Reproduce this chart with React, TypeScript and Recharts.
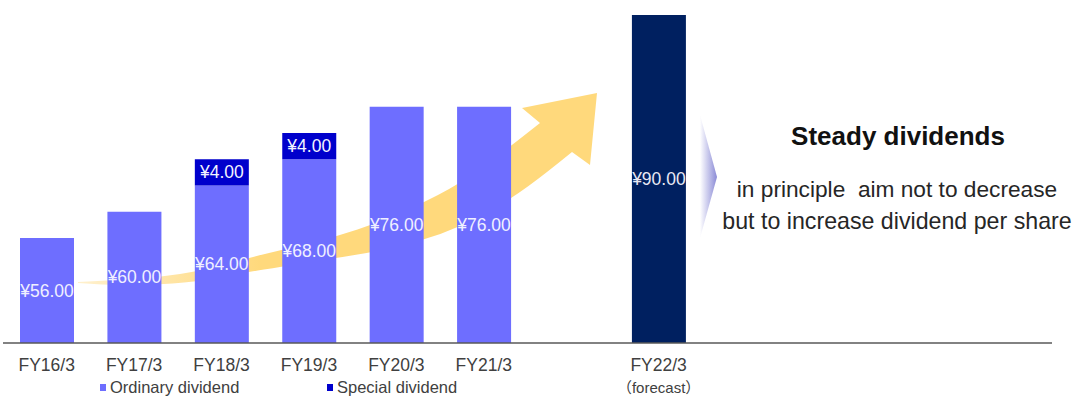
import React from 'react';
import { BarChart, Bar, XAxis, YAxis, LabelList } from 'recharts';

// Fiscal years; blank slots leave room between actuals and forecast and under the text block
const categories = ['FY16/3', 'FY17/3', 'FY18/3', 'FY19/3', 'FY20/3', 'FY21/3', '', 'FY22/3', '', '', '', ''];
const ordinaryDividend = [56, 60, 64, 68, 76, 76, null, null, null, null, null, null];
const specialDividend = [null, null, 4, 4, null, null, null, null, null, null, null, null];
const forecastDividend = [null, null, null, null, null, null, null, 90, null, null, null, null];
const forecastNote = '（forecast）';

const W = 1074;
const H = 396;
const X_AXIS_H = 30;
const MARGIN = { top: 15, right: 22, bottom: 23, left: 3 };
const BASE_Y = H - MARGIN.bottom - X_AXIS_H;
const FONT = '"Liberation Sans", Arial, "Noto Sans CJK JP", sans-serif';

const COLORS = {
  ordinary: '#6E6EFF',
  special: '#0000CC',
  forecast: '#002060',
  arrow: '#FFD97C',
};

const legendItems = [
  { name: 'Ordinary dividend', color: COLORS.ordinary, x: 100 },
  { name: 'Special dividend', color: COLORS.special, x: 327 },
];

const data = categories.map((name, i) => ({
  name,
  ordinary: ordinaryDividend[i],
  special: specialDividend[i],
  forecast: forecastDividend[i],
}));

// value label centred in the visible (unclipped) part of the segment
const renderValue = (fill: string) => (props: any) => {
  const { value } = props;
  if (value == null) return null;
  const vb = props.viewBox ?? props;
  const top = vb.y;
  const bottom = Math.min(vb.y + vb.height, BASE_Y);
  return (
    <text
      x={vb.x + vb.width / 2}
      y={(top + bottom) / 2}
      textAnchor="middle"
      dominantBaseline="central"
      fill={fill}
      fontSize={17.5}
      fontFamily={FONT}
    >
      {`¥${Number(value).toFixed(2)}`}
    </text>
  );
};

const renderTick = (props: any) => {
  const { x, payload } = props;
  if (!payload.value) return <g />;
  const isForecast = payload.value === 'FY22/3';
  return (
    <g>
      <text x={x} y={BASE_Y + 28} textAnchor="middle" fill="#404040" fontSize={17.5} fontFamily={FONT}>
        {payload.value}
      </text>
      {isForecast && (
        <text x={x} y={BASE_Y + 50} textAnchor="middle" fill="#404040" fontSize={15} fontFamily={FONT}>
          {forecastNote}
        </text>
      )}
    </g>
  );
};

// smooth outline through a list of points (quadratic curves through midpoints)
function smoothPath(pts: number[][], start: boolean) {
  let d = start ? `M${pts[0][0]},${pts[0][1]}` : `L${pts[0][0]},${pts[0][1]}`;
  for (let i = 1; i < pts.length - 1; i++) {
    const mx = (pts[i][0] + pts[i + 1][0]) / 2;
    const my = (pts[i][1] + pts[i + 1][1]) / 2;
    d += ` Q${pts[i][0]},${pts[i][1]} ${mx},${my}`;
  }
  const last = pts[pts.length - 1];
  d += ` L${last[0]},${last[1]}`;
  return d;
}

const arrowUpper = [[78, 282], [120, 280], [160, 277], [200, 271], [248, 258], [290, 248], [335, 237], [380, 222], [440, 195], [480, 170], [512, 145], [540, 123]];
const arrowHead = [[522, 108], [597, 93], [590, 165]];
const arrowLower = [[572, 152], [545, 174], [512, 198], [480, 217], [440, 235], [400, 246], [368, 253], [335, 258], [280, 267], [248, 272], [195, 282], [150, 285], [110, 285], [78, 283]];

const arrowPath =
  smoothPath(arrowUpper, true) +
  arrowHead.map(p => ` L${p[0]},${p[1]}`).join('') +
  ' ' + smoothPath(arrowLower, false) + ' Z';

const App: React.FC = () => {
  return (
    <div style={{ position: 'absolute', left: 0, top: 0, width: W, height: H, background: '#fff', fontFamily: FONT }}>
      {/* growth arrow sits behind the bars */}
      <svg width={W} height={H} style={{ position: 'absolute', left: 0, top: 0 }}>
        <defs>
          <linearGradient id="arrowFade" gradientUnits="userSpaceOnUse" x1={70} y1={0} x2={260} y2={0}>
            <stop offset="0" stopColor={COLORS.arrow} stopOpacity={0.35} />
            <stop offset="1" stopColor={COLORS.arrow} stopOpacity={1} />
          </linearGradient>
        </defs>
        <path d={arrowPath} fill="url(#arrowFade)" />
      </svg>

      <div style={{ position: 'absolute', left: 0, top: 0 }}>
        <BarChart width={W} height={H} data={data} margin={MARGIN} barSize={54}>
          <XAxis
            dataKey="name"
            height={X_AXIS_H}
            axisLine={{ stroke: '#595959', strokeWidth: 1.5 }}
            tickLine={false}
            tick={renderTick}
            interval={0}
          />
          <YAxis hide domain={[40, 90]} allowDataOverflow />
          <Bar dataKey="ordinary" stackId="d" fill={COLORS.ordinary} isAnimationActive={false}>
            <LabelList dataKey="ordinary" content={renderValue('#F0F0FF')} />
          </Bar>
          <Bar dataKey="special" stackId="d" fill={COLORS.special} isAnimationActive={false}>
            <LabelList dataKey="special" content={renderValue('#F4F4FF')} />
          </Bar>
          <Bar dataKey="forecast" stackId="d" fill={COLORS.forecast} isAnimationActive={false}>
            <LabelList dataKey="forecast" content={renderValue('#E8E8F4')} />
          </Bar>
        </BarChart>
      </div>

      {/* policy note, chevron and legend */}
      <svg width={W} height={H} style={{ position: 'absolute', left: 0, top: 0, pointerEvents: 'none' }}>
        <defs>
          <linearGradient id="chevronFade" x1="0" y1="0" x2="1" y2="0">
            <stop offset="0" stopColor="#FFFFFF" />
            <stop offset="1" stopColor="#8A8AD6" />
          </linearGradient>
        </defs>
        <polygon points="700,115 717,177 700,238" fill="url(#chevronFade)" />
        <text x={898} y={145} textAnchor="middle" fontSize={26} fontWeight="bold" fill="#111" fontFamily={FONT}>
          Steady dividends
        </text>
        <text x={897} y={197} textAnchor="middle" fontSize={22.7} fill="#262626" fontFamily={FONT} style={{ whiteSpace: 'pre' }}>
          {'in principle  aim not to decrease'}
        </text>
        <text x={897} y={229} textAnchor="middle" fontSize={23.2} fill="#262626" fontFamily={FONT}>
          but to increase dividend per share
        </text>
        {legendItems.map(item => (
          <g key={item.name}>
            <rect x={item.x} y={384} width={6} height={7} fill={item.color} />
            <text x={item.x + 10} y={393} fontSize={16.5} fill="#404040" fontFamily={FONT}>
              {item.name}
            </text>
          </g>
        ))}
      </svg>
    </div>
  );
};

export default App;
